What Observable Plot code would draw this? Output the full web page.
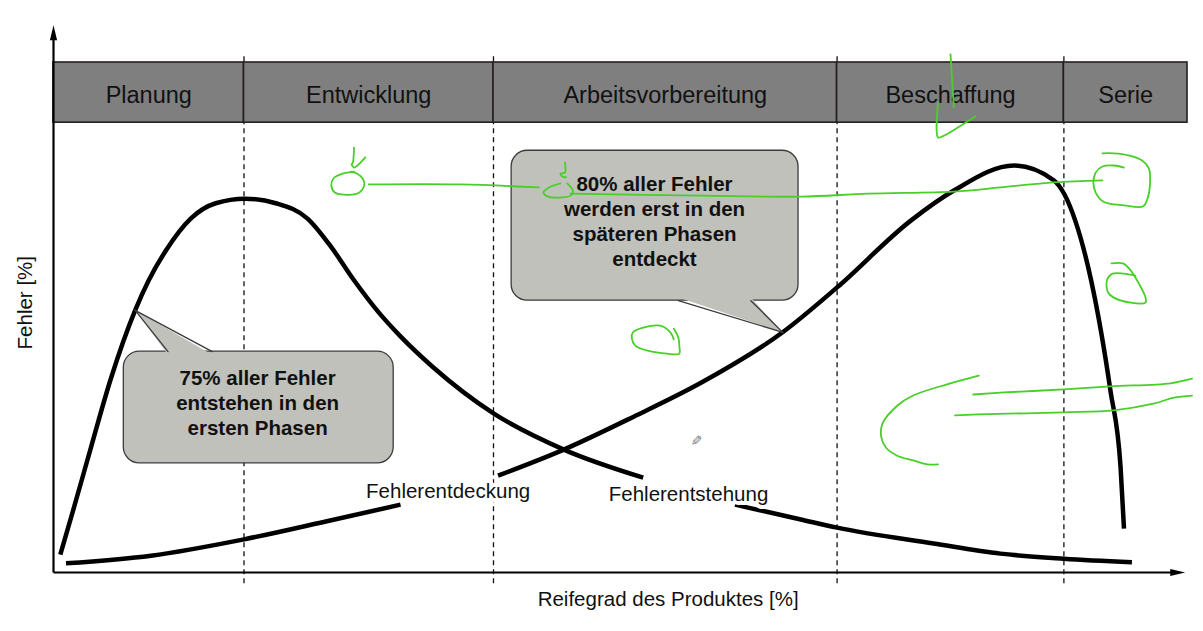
<!DOCTYPE html>
<html><head><meta charset="utf-8">
<script src="https://cdn.jsdelivr.net/npm/d3@7"></script>
<script src="https://cdn.jsdelivr.net/npm/@observablehq/plot@0.6"></script>
<style>
html,body{margin:0;padding:0;background:#fff;}
#chart{width:1203px;height:631px;overflow:hidden;}
</style></head><body><div id="chart"></div>
<script>
// ---------- data (x = Reifegrad des Produktes [%], y = Fehler [%]) ----------
const phases = ["Planung", "Entwicklung", "Arbeitsvorbereitung", "Beschaffung", "Serie"];
const phaseBounds = [0, 16.8, 38.8, 69.1, 89.1, 100];
const bandBottom = 88.2, bandTop = 100;

// Fehlerentstehung (NaN = gap for the label)
const entstehungX = [0.6, 1.8, 3.3, 5.0, 7.2, 8.4, 9.9, 12.1, 14.3, 16.9, 19.6, 22.4, 24.4, 26.5, 28.6, 30.6, 33.5, 38.8, 45.0, 52.0, 56.0, 60.1, 65.9, 69.1, 77.6, 83.5, 89.1, 95.1];
const entstehungY = [3.5, 12.7, 24.5, 37.6, 51.4, 57.3, 63.1, 69.4, 72.4, 73.3, 72.4, 69.4, 64.1, 57.3, 51.2, 46.3, 40.2, 31.2, 24.1, 18.6, NaN, 13.3, 10.4, 8.8, 5.7, 3.7, 2.7, 2.0];

// Fehlerentdeckung
const entdeckungX = [1.1, 8.6, 16.8, 24.4, 30.6, 35.0, 39.2, 45.0, 51.2, 57.1, 64.3, 69.1, 75.6, 79.4, 84.7, 88.2, 90.1, 91.5, 93.2, 94.1, 94.4];
const entdeckungY = [1.8, 3.3, 6.5, 10.2, 13.3, NaN, 19.0, 24.1, 30.6, 37.2, 47.1, 55.9, 69.0, 74.9, 79.8, 76.9, 69.0, 57.3, 35.7, 20.6, 8.6];

const curveLabels = [
  {text: "Fehlerentdeckung", x: 34.8, y: 15.9},
  {text: "Fehlerentstehung", x: 56.0, y: 15.3}
];

const calloutTexts = ["75% aller Fehler\nentstehen in den\nersten Phasen",
                      "80% aller Fehler\nwerden erst in den\nspäteren Phasen\nentdeckt"];
const calloutBoxX = [[6.2, 30.0], [40.4, 65.7]];
const calloutBoxY = [[21.4, 43.3], [53.3, 82.7]];
const calloutTip = [[7.2, 51.4], [64.3, 47.1]];
const calloutBaseX = [[10.1, 14.0], [55.1, 61.5]];
const calloutTextPos = [[18.0, 33.5], [53.0, 69.1]];

const axisTitles = [
  {text: "Fehler [%]", x: -2.45, y: 52.9, rotate: -90},
  {text: "Reifegrad des Produktes [%]", x: 54.2, y: -5.2, rotate: 0}
];
const yAxisTop = 107.3, xAxisEnd = 99.8;

// green hand-drawn annotations
const scribbles = [
  [[26.5,78.6],[25.5,78.2],[24.7,77.3],[24.5,75.9],[24.8,74.5],[25.6,74.1],[26.8,74.3],[27.4,75.9],[27.3,77.1],[26.8,78.2],[26.2,78.6]],
  [[26.5,83.3],[26.4,80.4],[26.3,80.0],[26.5,79.4],[26.8,79.8],[27.5,81.4]],
  [[27.8,76.1],[35.9,76.1],[42.8,75.5]],
  [[44.7,76.3],[43.7,75.5],[43.2,74.5],[43.6,73.7],[44.5,73.5],[45.6,73.9],[45.8,74.9],[45.3,76.3]],
  [[45.1,80.4],[45.1,78.4],[44.7,78.2],[44.9,77.6],[45.2,77.5]],
  [[45.6,74.3],[57.1,73.9],[65.9,73.7],[71.8,74.3],[79.4,74.7],[83.5,75.5],[88.2,76.5],[92.5,76.9]],
  [[94.4,79.4],[93.5,79.8],[92.5,79.6],[91.9,78.4],[91.7,76.5],[91.9,74.5],[92.6,72.7],[94.4,72.0],[96.1,71.8],[96.5,73.5],[96.7,76.5],[96.6,79.2],[96.0,80.8],[94.8,81.8],[93.5,82.2],[92.5,82.2]],
  [[93.3,60.6],[94.3,60.6],[95.0,59.2],[95.7,56.7],[96.3,53.9],[96.3,52.9],[95.0,52.9],[93.5,53.9],[93.0,54.9],[92.9,57.3],[93.4,58.6],[94.4,58.6],[95.4,58.2]],
  [[54.7,47.8],[55.1,46.1],[55.2,44.1],[55.2,42.9],[54.1,42.9],[52.4,43.5],[51.3,44.5],[51.0,45.9],[51.1,47.1],[52.0,48.0],[53.5,48.4],[54.4,47.1],[54.7,45.7]],
  [[81.6,38.6],[78.8,36.9],[75.8,34.7],[74.4,32.7],[73.1,29.2],[73.0,26.5],[73.4,24.5],[74.4,22.9],[75.8,22.0],[77.1,21.2],[78.0,21.2]],
  [[81.1,34.9],[83.8,35.3],[89.1,35.9],[93.2,36.5],[98.5,37.1],[100.4,38.0]],
  [[79.5,30.8],[81.5,31.0],[89.1,31.4],[93.5,31.8],[97.0,33.1],[98.8,34.3],[100.4,34.7]],
  [[79.1,101.6],[79.4,91.2]],
  [[78.0,92.2],[78.0,85.3],[78.4,85.5],[80.0,87.6],[81.3,89.4]]
];
const cursorPos = {x: 56.6, y: 25.9};

// ---------- derived tables ----------
const FONT = "'Liberation Sans', Arial, sans-serif";
const phaseTable = phases.map((p, i) => ({name: p, x1: phaseBounds[i], x2: phaseBounds[i + 1]}));
const innerBounds = phaseBounds.slice(1, -1);
const entstehung = entstehungX.map((x, i) => ({x, y: entstehungY[i]}));
const entdeckung = entdeckungX.map((x, i) => ({x, y: entdeckungY[i]}));
const callouts = calloutTexts.map((t, i) => ({
  text: t, x1: calloutBoxX[i][0], x2: calloutBoxX[i][1], y1: calloutBoxY[i][0], y2: calloutBoxY[i][1],
  tx: calloutTextPos[i][0], ty: calloutTextPos[i][1]
}));
const pointerFill = [], pointerEdge = [];
callouts.forEach((c, i) => {
  const [tipX, tipY] = calloutTip[i];
  const baseY = tipY > c.y2 ? c.y2 : c.y1;
  const inset = tipY > c.y2 ? -0.6 : 0.6;
  const [bx1, bx2] = calloutBaseX[i];
  pointerFill.push({id: i, x: bx1, y: baseY + inset}, {id: i, x: tipX, y: tipY}, {id: i, x: bx2, y: baseY + inset});
  pointerEdge.push({id: i, x: bx1, y: baseY}, {id: i, x: tipX, y: tipY}, {id: i, x: bx2, y: baseY});
});
const scribbleRows = scribbles.flatMap((s, i) => s.map(([x, y]) => ({id: i, x, y})));
const axes = [
  {id: "y", x: 0, y: 0}, {id: "y", x: 0, y: yAxisTop - 1.6},
  {id: "x", x: 0, y: 0}, {id: "x", x: xAxisEnd - 0.7, y: 0}
];
const arrowHeads = [{x: 0, y: yAxisTop, r: 0}, {x: xAxisEnd, y: 0, r: 90}];
const arrowSymbol = {draw(ctx) { ctx.moveTo(0, 0); ctx.lineTo(-3.6, 15); ctx.lineTo(3.6, 15); ctx.closePath(); }};

const CALLOUT_FILL = "#c1c1bc", CALLOUT_STROKE = "#3b3b3b";

const plot = Plot.plot({
  width: 1203, height: 631,
  marginLeft: 53, marginRight: 16, marginTop: 62, marginBottom: 59,
  x: {domain: [0, 100], axis: null},
  y: {domain: [0, 100], axis: null},
  style: {background: "#fff", fontFamily: FONT, overflow: "visible"},
  marks: [
    Plot.ruleX(innerBounds, {y1: -2.2, y2: 101.8, stroke: "#111", strokeWidth: 1.3, strokeDasharray: "5,4"}),
    Plot.rect(phaseTable, {x1: "x1", x2: "x2", y1: () => bandBottom, y2: () => bandTop, fill: "#807f7f", stroke: "#231f20", strokeWidth: 1.6}),
    Plot.text(phaseTable, {x: d => (d.x1 + d.x2) / 2, y: () => 93.6, text: "name", fontSize: 23.5, fill: "#111", fontFamily: FONT}),
    Plot.line(entstehung, {x: "x", y: "y", stroke: "#000", strokeWidth: 4.5, curve: "monotone-x", strokeLinecap: "butt"}),
    Plot.line(entdeckung, {x: "x", y: "y", stroke: "#000", strokeWidth: 4.5, curve: "monotone-x", strokeLinecap: "butt"}),
    Plot.rect(callouts, {x1: "x1", x2: "x2", y1: "y1", y2: "y2", rx: 16, fill: CALLOUT_FILL, stroke: CALLOUT_STROKE, strokeWidth: 1.3}),
    Plot.line(pointerFill, {x: "x", y: "y", z: "id", fill: CALLOUT_FILL, stroke: "none", curve: "linear-closed"}),
    Plot.line(pointerEdge, {x: "x", y: "y", z: "id", stroke: CALLOUT_STROKE, strokeWidth: 1.3, strokeLinejoin: "miter", strokeMiterlimit: 10}),
    Plot.text(callouts, {x: "tx", y: "ty", text: "text", fontSize: 20.5, fontWeight: "bold", lineHeight: 1.22, fill: "#111", fontFamily: FONT}),
    Plot.text(curveLabels, {x: "x", y: "y", text: "text", fontSize: 20.5, fill: "#111", stroke: "#fff", strokeWidth: 8, fontFamily: FONT}),
    Plot.line(axes, {x: "x", y: "y", z: "id", stroke: "#000", strokeWidth: 2.2, strokeLinecap: "butt"}),
    Plot.dot(arrowHeads, {x: "x", y: "y", rotate: "r", symbol: arrowSymbol, fill: "#000", stroke: "none", r: 4}),
    Plot.text(axisTitles, {x: "x", y: "y", text: "text", rotate: "rotate", fontSize: 20.5, fill: "#111", fontFamily: FONT}),
    Plot.line(scribbleRows, {x: "x", y: "y", z: "id", stroke: "#48cf28", strokeWidth: 1.8, curve: "catmull-rom"}),
    Plot.text([cursorPos], {x: "x", y: "y", text: () => "✎", rotate: 90, fontSize: 14, fill: "#777", fontFamily: "DejaVu Sans"})
  ]
});
document.getElementById("chart").append(plot);
</script>
</body></html>
